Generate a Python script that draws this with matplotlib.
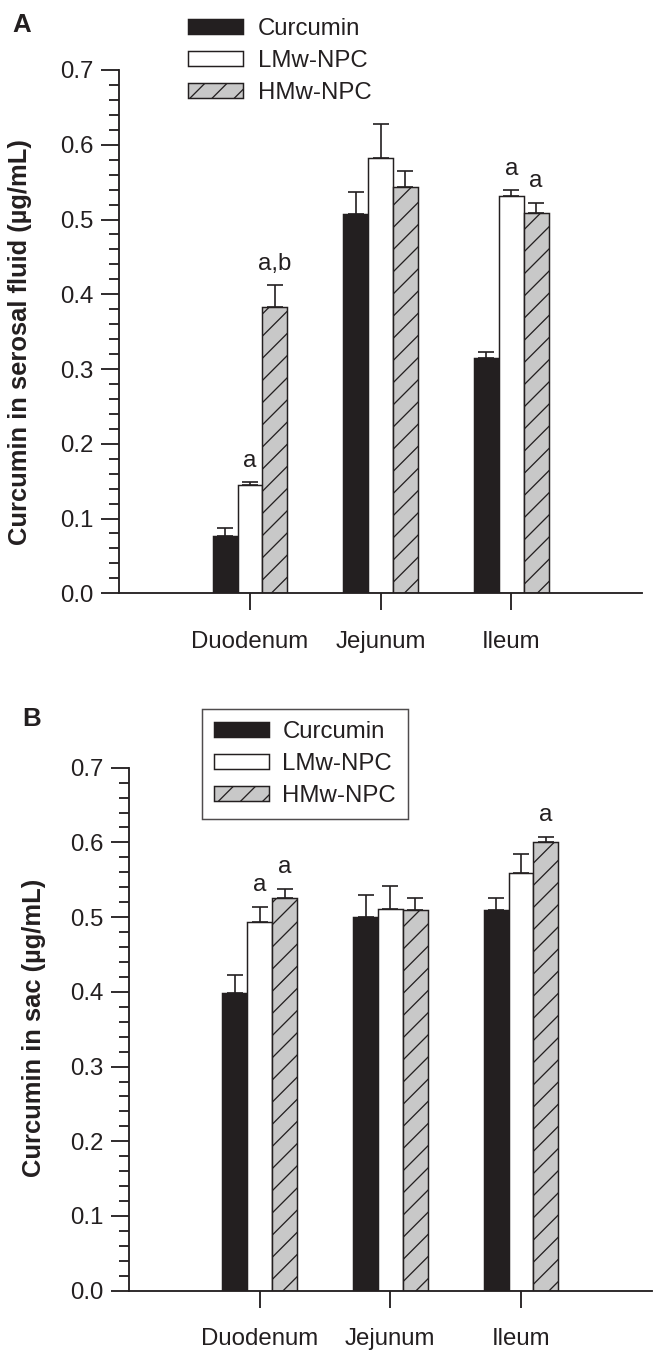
import matplotlib
matplotlib.use('Agg')
import matplotlib.pyplot as plt
from matplotlib.ticker import MultipleLocator
import numpy as np

# ---------------- data ----------------
categories = ['Duodenum', 'Jejunum', 'Ileum']
series = ['Curcumin', 'LMw-NPC', 'HMw-NPC']

serosal_curcumin = [0.076, 0.507, 0.315]
serosal_curcumin_err = [0.011, 0.030, 0.008]
serosal_lmw = [0.1445, 0.582, 0.531]
serosal_lmw_err = [0.004, 0.046, 0.008]
serosal_hmw = [0.383, 0.544, 0.509]
serosal_hmw_err = [0.029, 0.021, 0.013]
serosal_marks_curcumin = ['', '', '']
serosal_marks_lmw = ['a', '', 'a']
serosal_marks_hmw = ['a,b', '', 'a']

sac_curcumin = [0.398, 0.500, 0.510]
sac_curcumin_err = [0.024, 0.030, 0.015]
sac_lmw = [0.493, 0.511, 0.559]
sac_lmw_err = [0.021, 0.031, 0.026]
sac_hmw = [0.525, 0.510, 0.600]
sac_hmw_err = [0.013, 0.016, 0.007]
sac_marks_curcumin = ['', '', '']
sac_marks_lmw = ['a', '', '']
sac_marks_hmw = ['a', '', 'a']

yticks = [0.0, 0.1, 0.2, 0.3, 0.4, 0.5, 0.6, 0.7]
ytick_labels = ['0.0', '0.1', '0.2', '0.3', '0.4', '0.5', '0.6', '0.7']

# ---------------- style ----------------
plt.rcParams['font.family'] = ['Liberation Sans', 'DejaVu Sans']
plt.rcParams['hatch.linewidth'] = 0.7
DARK = '#231f20'
GRAY = '#c8c8c8'
W, H, DPI = 665, 1352, 133

fig = plt.figure(figsize=(W / DPI, H / DPI), dpi=DPI)

def px_axes(left, right, top, bottom):
    return fig.add_axes([left / W, 1 - bottom / H, (right - left) / W, (bottom - top) / H])

styles = [dict(facecolor=DARK, edgecolor=DARK, hatch=None),
          dict(facecolor='white', edgecolor=DARK, hatch=None),
          dict(facecolor=GRAY, edgecolor=DARK, hatch='//')]

FS = 13

def draw_panel(ax, vals, errs, marks):
    x = np.arange(len(categories))
    bw = 0.19
    handles = []
    for i, (v, e, m, st) in enumerate(zip(vals, errs, marks, styles)):
        xs = x + (i - 1) * bw
        b = ax.bar(xs, v, width=bw, facecolor=st['facecolor'], edgecolor=st['edgecolor'],
                   hatch=st['hatch'], linewidth=0.8, zorder=2, label=series[i])
        handles.append(b)
        ax.errorbar(xs, v, yerr=[np.zeros(len(e)), e], fmt='none', ecolor=DARK,
                    elinewidth=0.9, capsize=4.3, capthick=0.9, zorder=3)
        for xi, vi, ei, mi in zip(xs, v, e, m):
            if mi:
                ax.annotate(mi, xy=(xi, vi + ei), xytext=(0, 8.5), textcoords='offset points',
                            ha='center', va='baseline', fontsize=FS, color=DARK)
    ax.set_xlim(-1, 3)
    ax.set_ylim(0, 0.7)
    ax.spines['top'].set_visible(False)
    ax.spines['right'].set_visible(False)
    for s in ['left', 'bottom']:
        ax.spines[s].set_linewidth(1.0)
        ax.spines[s].set_color(DARK)
    ax.set_xticks(x)
    ax.set_xticklabels(categories, fontsize=FS, color=DARK)
    ax.set_yticks(yticks)
    ax.set_yticklabels(ytick_labels, fontsize=FS, color=DARK)
    ax.yaxis.set_minor_locator(MultipleLocator(0.02))
    ax.tick_params(axis='y', which='major', length=10, width=1.0, pad=4, color=DARK)
    ax.tick_params(axis='y', which='minor', length=5.4, width=1.0, color=DARK)
    ax.tick_params(axis='x', which='major', length=9.2, width=1.0, pad=11, color=DARK)
    return handles

# Panel A
axA = px_axes(119.3, 642, 70, 593.3)
hA = draw_panel(axA, [serosal_curcumin, serosal_lmw, serosal_hmw],
                [serosal_curcumin_err, serosal_lmw_err, serosal_hmw_err],
                [serosal_marks_curcumin, serosal_marks_lmw, serosal_marks_hmw])
legA = fig.legend(handles=hA, labels=series, loc='upper left',
                  bbox_to_anchor=(188 / W, 1 - 18 / H), frameon=False, fontsize=FS,
                  handlelength=2.3, handleheight=0.55, handletextpad=0.6,
                  labelspacing=0.42, borderpad=0, borderaxespad=0)
for t in legA.get_texts():
    t.set_color(DARK)

# Panel B
axB = px_axes(129, 651.7, 767.7, 1290.7)
hB = draw_panel(axB, [sac_curcumin, sac_lmw, sac_hmw],
                [sac_curcumin_err, sac_lmw_err, sac_hmw_err],
                [sac_marks_curcumin, sac_marks_lmw, sac_marks_hmw])
legB = fig.legend(handles=hB, labels=series, loc='upper left',
                  bbox_to_anchor=(202 / W, 1 - 709 / H), frameon=True, fancybox=False,
                  fontsize=FS, handlelength=2.3, handleheight=0.55, handletextpad=0.55,
                  labelspacing=0.42, borderpad=0.5, borderaxespad=0)
legB.get_frame().set_edgecolor(DARK)
legB.get_frame().set_linewidth(0.8)
for t in legB.get_texts():
    t.set_color(DARK)

# y labels
fig.text(20 / W, 1 - 342 / H, 'Curcumin in serosal fluid (µg/mL)', rotation=90,
         ha='center', va='center', fontsize=13.8, fontweight='bold', color=DARK)
fig.text(34 / W, 1 - 1028 / H, 'Curcumin in sac (µg/mL)', rotation=90,
         ha='center', va='center', fontsize=13.8, fontweight='bold', color=DARK)

# panel letters
fig.text(22 / W, 1 - 25 / H, 'A', ha='center', va='center', fontsize=14,
         fontweight='bold', color=DARK)
fig.text(31.5 / W, 1 - 719.5 / H, 'B', ha='center', va='center', fontsize=14,
         fontweight='bold', color=DARK)

fig.savefig('out.png', dpi=DPI)
